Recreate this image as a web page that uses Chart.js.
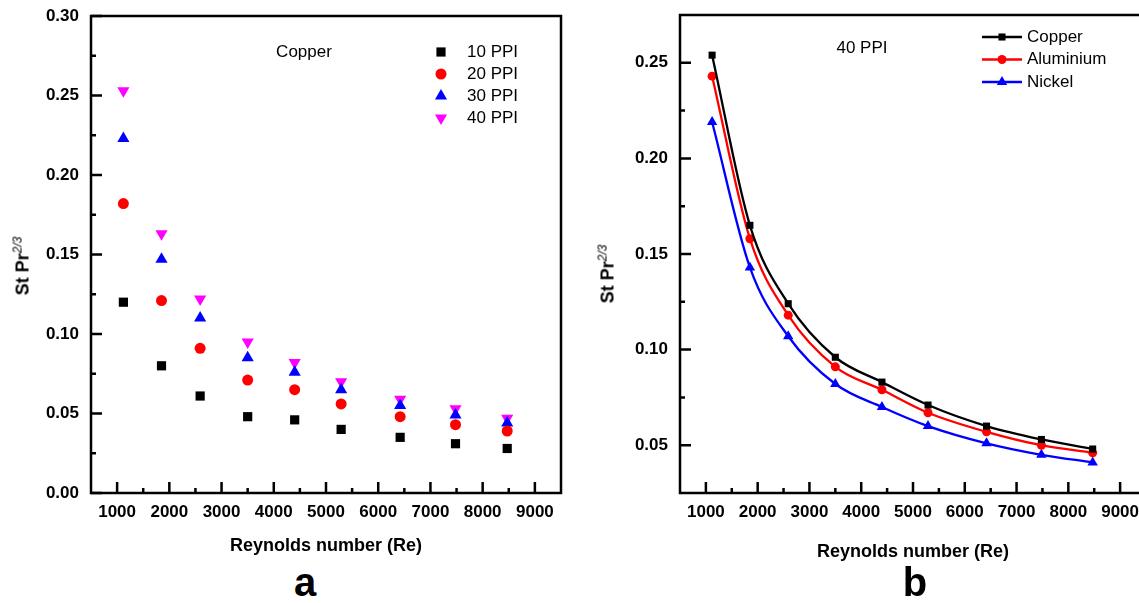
<!DOCTYPE html>
<html>
<head>
<meta charset="utf-8">
<script src="https://cdn.jsdelivr.net/npm/chart.js@4.4.1/dist/chart.umd.min.js"></script>
<style>
  body { margin: 0; width: 1139px; height: 603px; overflow: hidden; background: #fff; position: relative;
         font-family: "Liberation Sans", Arial, sans-serif; }
  canvas { position: absolute; top: 0; }
  .ytitle { position: absolute; font-weight: bold; font-size: 18px; white-space: nowrap;
            transform: translate(-50%, -50%) rotate(-90deg); }
  .ytitle sup { font-size: 12px; font-weight: normal; font-style: italic; }
  .tag { position: absolute; font-weight: bold; font-size: 40px; line-height: 40px; transform: translateX(-50%); }
</style>
</head>
<body>
<canvas id="chartA" width="575" height="560" style="left:0"></canvas>
<canvas id="chartB" width="580" height="566" style="left:575px"></canvas>
<div class="ytitle" style="left:22px; top:266px">St Pr<sup>2/3</sup></div>
<div class="ytitle" style="left:607px; top:274px">St Pr<sup>2/3</sup></div>
<div class="tag" style="left:305px; top:562px">a</div>
<div class="tag" style="left:915px; top:562px">b</div>
<script>
// Reynolds numbers (same for both panels)
const reynolds = [1120, 1850, 2590, 3500, 4400, 5290, 6420, 7480, 8470];

// panel a - copper foams
const ppi10 = [0.120, 0.080, 0.061, 0.048, 0.046, 0.040, 0.035, 0.031, 0.028];
const ppi20 = [0.182, 0.121, 0.091, 0.071, 0.065, 0.056, 0.048, 0.043, 0.039];
const ppi30 = [0.223, 0.147, 0.110, 0.085, 0.076, 0.065, 0.055, 0.049, 0.044];
const ppi40 = [0.253, 0.163, 0.122, 0.095, 0.082, 0.070, 0.059, 0.053, 0.047];

// panel b - 40 PPI
const copper = [0.254, 0.165, 0.124, 0.096, 0.083, 0.071, 0.060, 0.053, 0.048];
const aluminium = [0.243, 0.158, 0.118, 0.091, 0.079, 0.067, 0.057, 0.050, 0.046];
const nickel = [0.219, 0.143, 0.107, 0.082, 0.070, 0.060, 0.051, 0.045, 0.041];

const xTicks = [1000, 2000, 3000, 4000, 5000, 6000, 7000, 8000, 9000];
const yTicksA = [0, 0.05, 0.10, 0.15, 0.20, 0.25, 0.30];
const yTicksB = [0.05, 0.10, 0.15, 0.20, 0.25];

const FONT = '"Liberation Sans", Arial, sans-serif';

function pts(ys) {
    return reynolds.map((x, i) => ({ x: x, y: ys[i] }));
}

// minor ticks halfway between the major ones
function minors(vals, min, max) {
    const step = vals[1] - vals[0];
    const out = [];
    for (let v = vals[0] - step / 2; v < max - 1e-9; v += step) {
        if (v > min + 1e-9) out.push(v);
    }
    return out;
}

// box round the plot, ticks pointing inwards
const frame = {
    id: 'frame',
    afterDatasetsDraw(chart) {
        const { ctx, chartArea: a, scales: { x, y } } = chart;
        const xs = x.ticks.map(t => t.value);
        const ys = y.ticks.map(t => t.value);
        ctx.save();
        ctx.strokeStyle = '#000';
        ctx.lineWidth = 2.5;
        ctx.strokeRect(a.left, a.top, a.right - a.left, a.bottom - a.top);
        ctx.beginPath();
        xs.forEach(v => { const p = x.getPixelForValue(v); ctx.moveTo(p, a.bottom); ctx.lineTo(p, a.bottom - 11); });
        minors(xs, x.min, x.max).forEach(v => { const p = x.getPixelForValue(v); ctx.moveTo(p, a.bottom); ctx.lineTo(p, a.bottom - 5); });
        ys.forEach(v => { const p = y.getPixelForValue(v); ctx.moveTo(a.left, p); ctx.lineTo(a.left + 11, p); });
        minors(ys, y.min, y.max).forEach(v => { const p = y.getPixelForValue(v); ctx.moveTo(a.left, p); ctx.lineTo(a.left + 5, p); });
        ctx.stroke();
        ctx.restore();
    }
};

// legend + note drawn inside the plot
const keyBox = {
    id: 'keyBox',
    afterDraw(chart, args, opts) {
        const ctx = chart.ctx;
        ctx.save();
        ctx.font = '17px ' + FONT;
        ctx.textBaseline = 'middle';
        chart.data.datasets.forEach((ds, i) => {
            const yy = opts.top + i * opts.gap;
            ctx.strokeStyle = ds.borderColor;
            ctx.fillStyle = ds.pointBackgroundColor;
            if (opts.line) {
                ctx.lineWidth = 2.5;
                ctx.beginPath();
                ctx.moveTo(opts.x - 20, yy);
                ctx.lineTo(opts.x + 20, yy);
                ctx.stroke();
            }
            Chart.helpers.drawPoint(ctx, {
                pointStyle: ds.pointStyle, rotation: ds.rotation || 0,
                radius: ds.pointRadius, borderWidth: 0
            }, opts.x, yy);
            ctx.fillStyle = '#000';
            ctx.textAlign = 'left';
            ctx.fillText(ds.label, opts.textX, yy);
        });
        ctx.textAlign = 'center';
        ctx.fillText(opts.note, opts.noteX, opts.noteY);
        ctx.restore();
    }
};

function axes(yMin, yMax, yTicks, yWidth, yPad, xHeight, titlePad) {
    const tickFont = { family: FONT, size: 17, weight: 'bold' };
    return {
        x: {
            type: 'linear', min: 500, max: 9500,
            afterBuildTicks: s => { s.ticks = xTicks.map(v => ({ value: v })); },
            afterFit: s => { s.height = xHeight; s.paddingLeft = 0; s.paddingRight = 0; },
            grid: { display: false, drawTicks: false },
            border: { display: false },
            ticks: { color: '#000', font: tickFont, padding: 9, maxRotation: 0, callback: v => String(v) },
            title: { display: true, text: 'Reynolds number (Re)', color: '#000',
                     font: { family: FONT, size: 18, weight: 'bold' }, padding: { top: 0, bottom: titlePad } }
        },
        y: {
            type: 'linear', min: yMin, max: yMax,
            afterBuildTicks: s => { s.ticks = yTicks.map(v => ({ value: v })); },
            afterFit: s => { s.width = yWidth; s.paddingTop = 0; s.paddingBottom = 0; },
            grid: { display: false, drawTicks: false },
            border: { display: false },
            ticks: { color: '#000', font: tickFont, padding: yPad, callback: v => v.toFixed(2) }
        }
    };
}

new Chart(document.getElementById('chartA'), {
    type: 'scatter',
    data: {
        datasets: [
            { label: '10 PPI', data: pts(ppi10), pointStyle: 'rect', pointRadius: 6.5,
              pointBackgroundColor: '#000', borderColor: '#000', pointBorderWidth: 0 },
            { label: '20 PPI', data: pts(ppi20), pointStyle: 'circle', pointRadius: 5.5,
              pointBackgroundColor: '#ff0000', borderColor: '#ff0000', pointBorderWidth: 0 },
            { label: '30 PPI', data: pts(ppi30), pointStyle: 'triangle', pointRadius: 7,
              pointBackgroundColor: '#0000ff', borderColor: '#0000ff', pointBorderWidth: 0 },
            { label: '40 PPI', data: pts(ppi40), pointStyle: 'triangle', rotation: 180, pointRadius: 7,
              pointBackgroundColor: '#ff00ff', borderColor: '#ff00ff', pointBorderWidth: 0 }
        ]
    },
    options: {
        responsive: false,
        animation: false,
        layout: { padding: { top: 16, right: 14, left: 0, bottom: 0 } },
        scales: axes(0, 0.30, yTicksA, 91, 12, 67, 3),
        plugins: {
            legend: { display: false },
            tooltip: { enabled: false },
            keyBox: { x: 441, textX: 467, top: 52, gap: 22, line: false,
                      note: 'Copper', noteX: 304, noteY: 52 }
        }
    },
    plugins: [frame, keyBox]
});

new Chart(document.getElementById('chartB'), {
    type: 'scatter',
    data: {
        datasets: [
            { label: 'Copper', data: pts(copper), showLine: true, pointStyle: 'rect', pointRadius: 5,
              borderColor: '#000', pointBackgroundColor: '#000', borderWidth: 2.3, pointBorderWidth: 0,
              tension: 0.4, cubicInterpolationMode: 'monotone' },
            { label: 'Aluminium', data: pts(aluminium), showLine: true, pointStyle: 'circle', pointRadius: 4.5,
              borderColor: '#ff0000', pointBackgroundColor: '#ff0000', borderWidth: 2.3, pointBorderWidth: 0,
              tension: 0.4, cubicInterpolationMode: 'monotone' },
            { label: 'Nickel', data: pts(nickel), showLine: true, pointStyle: 'triangle', pointRadius: 6,
              borderColor: '#0000ff', pointBackgroundColor: '#0000ff', borderWidth: 2.3, pointBorderWidth: 0,
              tension: 0.4, cubicInterpolationMode: 'monotone' }
        ]
    },
    options: {
        responsive: false,
        animation: false,
        layout: { padding: { top: 15, right: 9, left: 0, bottom: 0 } },
        scales: axes(0.025, 0.275, yTicksB, 105, 12, 73, 3),
        plugins: {
            legend: { display: false },
            tooltip: { enabled: false },
            keyBox: { x: 427, textX: 452, top: 37, gap: 22.5, line: true,
                      note: '40 PPI', noteX: 287, noteY: 48 }
        }
    },
    plugins: [frame, keyBox]
});
</script>
</body>
</html>
